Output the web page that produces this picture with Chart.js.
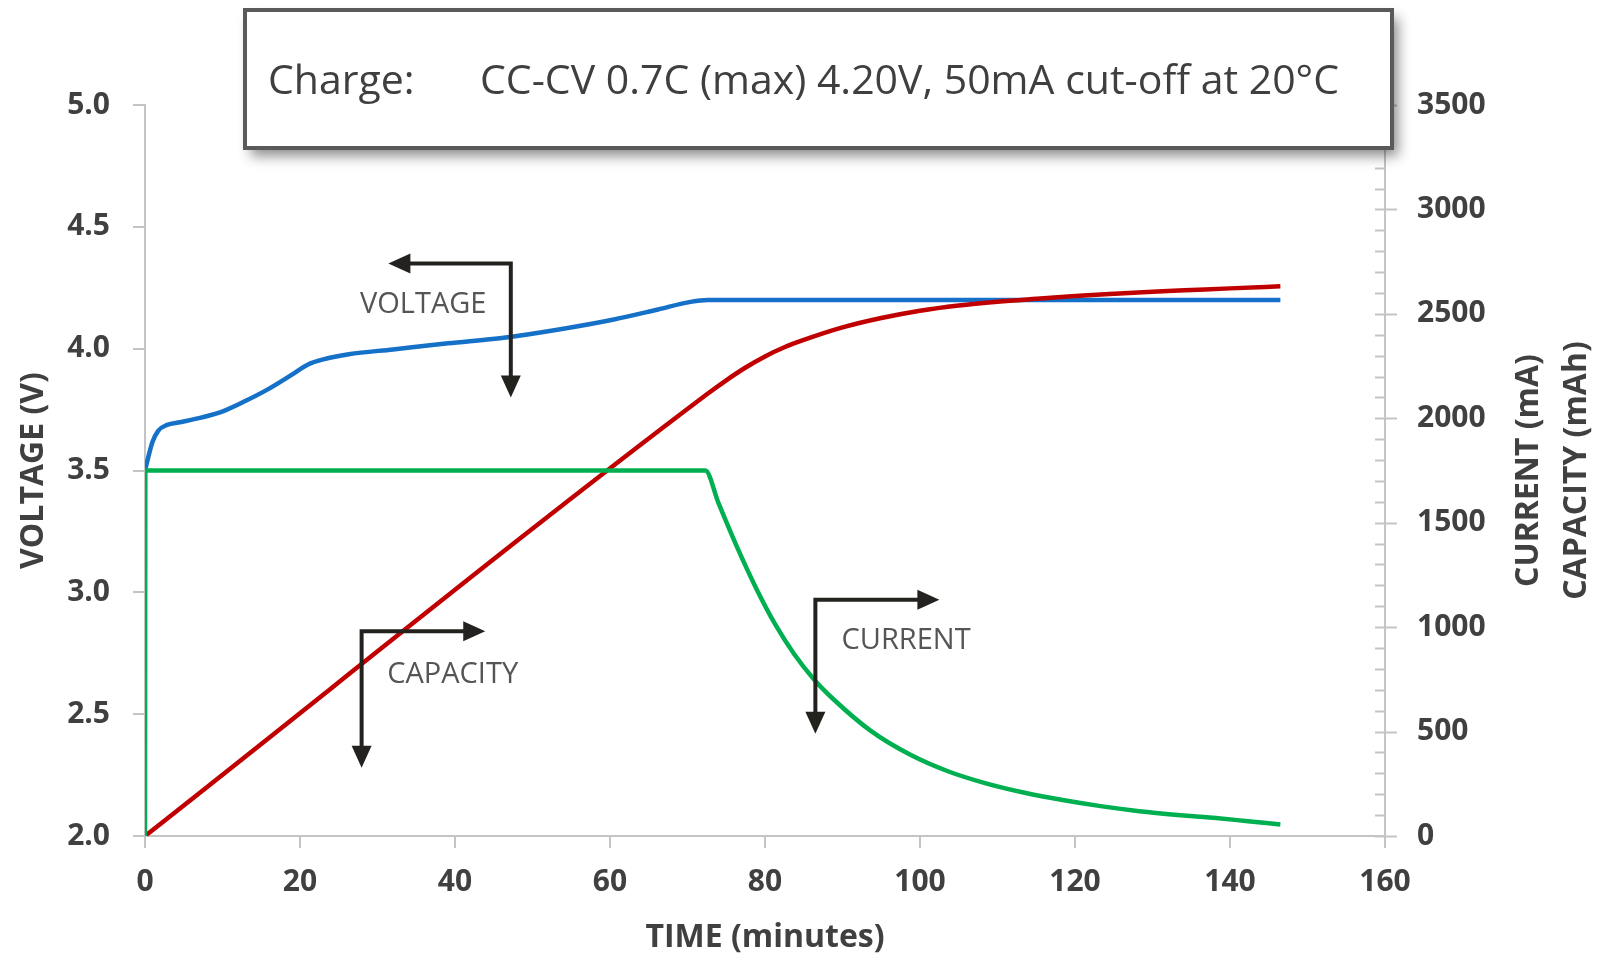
<!DOCTYPE html>
<html>
<head>
<meta charset="utf-8">
<script src="https://cdn.jsdelivr.net/npm/chart.js@4.4.1/dist/chart.umd.min.js"></script>
<style>
  body { margin: 0; background: #fff; }
  #wrap { width: 1601px; height: 962px; }
</style>
</head>
<body>
<div id="wrap"><canvas id="charge-graph" width="1601" height="962"></canvas></div>
<script>
// values, time in minutes
const voltageTime = [0, 0.95, 1.7, 2.85, 4.5, 7.35, 10.2, 13, 15.9, 18.7, 21.1, 23, 26.3, 32, 39.1, 46.3, 53.4, 60.5, 66.2, 70.4, 72.6, 80, 100, 120, 146.5]
const voltageValues = [3.5, 3.616, 3.663, 3.687, 3.698, 3.718, 3.745, 3.786, 3.834, 3.888, 3.936, 3.956, 3.977, 3.997, 4.022, 4.045, 4.079, 4.12, 4.161, 4.192, 4.2, 4.2, 4.2, 4.2, 4.2]

const capacityTime = [0, 72.5, 75, 77.5, 80, 82.5, 85, 90, 95, 100, 105, 110, 115, 120, 125, 130, 135, 140, 146.5]
const capacityValues = [0, 2115, 2182, 2243, 2296, 2340, 2375, 2435, 2480, 2515, 2540, 2558, 2572, 2585, 2596, 2606, 2614, 2622, 2632]

const currentTime = [0, 0.05, 72.3, 74, 76.4, 78.9, 81.4, 83.8, 86.3, 88.8, 93.7, 98.7, 103.6, 108.5, 113.5, 118.4, 123.3, 128.3, 133.2, 138.2, 142, 146.5]
const currentValues = [0, 1750, 1750, 1594, 1383, 1183, 1008, 869, 751, 656, 502, 390, 310, 252, 207, 172, 143, 119, 101, 86, 72, 55]

const timeTicks = [0, 20, 40, 60, 80, 100, 120, 140, 160]
const voltageTicks = ['5.0', '4.5', '4.0', '3.5', '3.0', '2.5', '2.0']
const currentTicks = ['3500', '3000', '2500', '2000', '1500', '1000', '500', '0']

const headerLabel = 'Charge:'
const headerText = 'CC-CV 0.7C (max) 4.20V, 50mA cut-off at 20°C'

// arrow callouts, in (minutes, volts)
const callouts = [
  { text: 'VOLTAGE', corner: [47.2, 4.35], hTip: 31.4, vTip: 3.80, at: [35.9, 4.18] },
  { text: 'CAPACITY', corner: [27.95, 2.84], hTip: 43.9, vTip: 2.28, at: [39.7, 2.66] },
  { text: 'CURRENT', corner: [86.5, 2.97], hTip: 102.5, vTip: 2.42, at: [98.2, 2.80] }
]

const toPoints = (xs, ys) => xs.map((x, i) => ({ x, y: ys[i] }))

const AXIS_GREY = '#c4c4c4'
const TEXT_GREY = '#404040'
const tickFont = { family: 'Open Sans', size: 30, weight: 'bold' }

function arrowHead (ctx, x, y, dir) {
  const len = 22
  const half = 10
  ctx.beginPath()
  if (dir === 'left') {
    ctx.moveTo(x, y); ctx.lineTo(x + len, y - half); ctx.lineTo(x + len, y + half)
  } else if (dir === 'right') {
    ctx.moveTo(x, y); ctx.lineTo(x - len, y - half); ctx.lineTo(x - len, y + half)
  } else {
    ctx.moveTo(x, y); ctx.lineTo(x - half, y - len); ctx.lineTo(x + half, y - len)
  }
  ctx.closePath()
  ctx.fill()
}

function rotatedText (ctx, text, x, y) {
  ctx.save()
  ctx.translate(x, y)
  ctx.rotate(-Math.PI / 2)
  ctx.fillText(text, 0, 0)
  ctx.restore()
}

const extras = {
  id: 'extras',
  afterDraw (chart) {
    const ctx = chart.ctx
    const { x, y, y1 } = chart.scales
    const area = chart.chartArea

    // right axis: minor ticks inside, major ticks across the line
    ctx.save()
    ctx.strokeStyle = AXIS_GREY
    ctx.lineWidth = 2
    for (let v = 0; v <= 3500; v += 100) {
      const py = Math.round(y1.getPixelForValue(v)) + 0.5
      ctx.beginPath()
      ctx.moveTo(area.right - 10, py)
      ctx.lineTo(v % 500 === 0 ? area.right + 12 : area.right, py)
      ctx.stroke()
    }
    ctx.restore()

    // axis titles
    ctx.save()
    ctx.fillStyle = TEXT_GREY
    ctx.font = 'bold 32px "Open Sans"'
    ctx.textAlign = 'center'
    ctx.textBaseline = 'middle'
    const midY = (area.top + area.bottom) / 2
    rotatedText(ctx, 'VOLTAGE (V)', 34, midY)
    rotatedText(ctx, 'CURRENT (mA)', 1529, midY)
    rotatedText(ctx, 'CAPACITY (mAh)', 1577, midY)
    ctx.fillText('TIME (minutes)', (area.left + area.right) / 2, 938)
    ctx.restore()

    // callout arrows
    ctx.save()
    ctx.strokeStyle = '#23221e'
    ctx.fillStyle = '#23221e'
    ctx.lineWidth = 4
    callouts.forEach(c => {
      const cx = x.getPixelForValue(c.corner[0])
      const cy = y.getPixelForValue(c.corner[1])
      const hx = x.getPixelForValue(c.hTip)
      const vy = y.getPixelForValue(c.vTip)
      const dir = hx < cx ? 'left' : 'right'
      ctx.beginPath()
      ctx.moveTo(dir === 'left' ? hx + 20 : hx - 20, cy)
      ctx.lineTo(cx, cy)
      ctx.lineTo(cx, vy - 20)
      ctx.stroke()
      arrowHead(ctx, hx, cy, dir)
      arrowHead(ctx, cx, vy, 'down')
    })
    ctx.fillStyle = '#555555'
    ctx.font = '29px "Open Sans"'
    ctx.textAlign = 'center'
    ctx.textBaseline = 'middle'
    callouts.forEach(c => {
      ctx.fillText(c.text, x.getPixelForValue(c.at[0]), y.getPixelForValue(c.at[1]))
    })
    ctx.restore()

    // header box with drop shadow
    ctx.save()
    ctx.shadowColor = 'rgba(0, 0, 0, 0.45)'
    ctx.shadowBlur = 12
    ctx.shadowOffsetX = 6
    ctx.shadowOffsetY = 8
    ctx.fillStyle = '#ffffff'
    ctx.fillRect(245, 10, 1147, 138)
    ctx.shadowColor = 'transparent'
    ctx.strokeStyle = '#5a5a5a'
    ctx.lineWidth = 4
    ctx.strokeRect(245, 10, 1147, 138)
    ctx.fillStyle = '#3f3f3f'
    ctx.font = '41px "Open Sans"'
    ctx.textBaseline = 'alphabetic'
    ctx.fillText(headerLabel, 268, 94)
    ctx.fillText(headerText, 480, 94)
    ctx.restore()
  }
}

const ctx = document.getElementById('charge-graph').getContext('2d')
new Chart(ctx, {
  type: 'line',
  data: {
    datasets: [
      {
        data: toPoints(currentTime, currentValues),
        yAxisID: 'y1',
        borderColor: '#00b050',
        borderWidth: 4.5,
        cubicInterpolationMode: 'monotone'
      },
      {
        data: toPoints(capacityTime, capacityValues),
        yAxisID: 'y1',
        borderColor: '#c00000',
        borderWidth: 4.5,
        cubicInterpolationMode: 'monotone'
      },
      {
        data: toPoints(voltageTime, voltageValues),
        yAxisID: 'y',
        borderColor: '#1570c8',
        borderWidth: 4.5,
        cubicInterpolationMode: 'monotone'
      }
    ]
  },
  options: {
    responsive: false,
    animation: false,
    elements: { point: { radius: 0 } },
    layout: { padding: { top: 105 } },
    scales: {
      x: {
        type: 'linear',
        min: 0,
        max: 160,
        afterFit: scale => { scale.height = 126 },
        afterBuildTicks: scale => { scale.ticks = timeTicks.map(v => ({ value: v })) },
        grid: { drawOnChartArea: false, tickLength: 12, color: AXIS_GREY, lineWidth: 2 },
        border: { color: AXIS_GREY, width: 2 },
        ticks: { font: tickFont, color: TEXT_GREY, padding: 16, maxRotation: 0, callback: v => String(v) }
      },
      y: {
        position: 'left',
        min: 2,
        max: 5,
        afterFit: scale => { scale.width = 145 },
        afterBuildTicks: scale => { scale.ticks = voltageTicks.map(v => ({ value: Number(v) })) },
        grid: { drawOnChartArea: false, tickLength: 12, color: AXIS_GREY, lineWidth: 2 },
        border: { color: AXIS_GREY, width: 2 },
        ticks: { font: tickFont, color: TEXT_GREY, padding: 23, callback: v => v.toFixed(1) }
      },
      y1: {
        position: 'right',
        min: 0,
        max: 3500,
        afterFit: scale => { scale.width = 216 },
        afterBuildTicks: scale => { scale.ticks = currentTicks.map(v => ({ value: Number(v) })) },
        grid: { drawOnChartArea: false, drawTicks: false },
        border: { color: AXIS_GREY, width: 2 },
        ticks: { font: tickFont, color: TEXT_GREY, padding: 32, callback: v => String(v) }
      }
    },
    plugins: {
      legend: { display: false },
      tooltip: { enabled: false }
    }
  },
  plugins: [extras]
})
</script>
</body>
</html>
